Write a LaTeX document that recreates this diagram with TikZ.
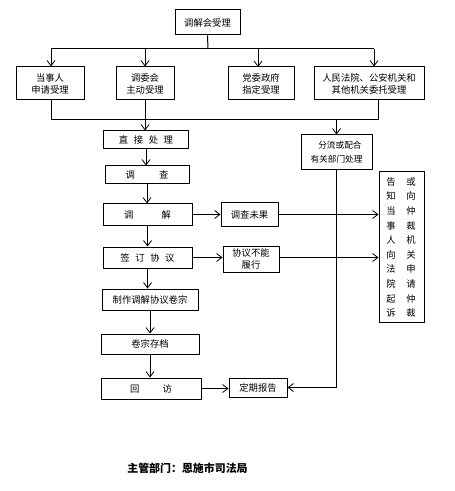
\documentclass[tikz,border=0pt]{standalone}
\usepackage{fontspec}
\setmainfont{Noto Sans CJK SC}
\usetikzlibrary{arrows.meta}
\begin{document}
\begin{tikzpicture}[x=0.75pt,y=-0.75pt,
  bx/.style 2 args={draw,line width=0.75pt,inner sep=0pt,minimum width=#1*0.75pt,minimum height=#2*0.75pt,align=center,font=\fontsize{7}{9}\selectfont},
  ln/.style={line width=0.75pt},
  arr/.style={line width=0.75pt,-{Straight Barb[length=4pt,width=6pt,line width=0.6pt]}}]
\useasboundingbox (0,0) rectangle (454,491);
% top
\node[bx={65}{25}] (top) at (207.5,22.5) {调解会受理};
\node[bx={68}{33}] (b1) at (50,83.5) {当事人\\申请受理};
\node[bx={58}{33}] (b2) at (145,83.5) {调委会\\主动受理};
\node[bx={66}{33}] (b3) at (261,83.5) {党委政府\\指定受理};
\node[bx={110}{33}] (b4) at (369,83.5) {人民法院、公安机关和\\其他机关委托受理};
\coordinate (bus) at (208,49);
\coordinate (busL) at (51,49);
\coordinate (busR) at (374,49);
\draw[ln] (top.south) -- (bus);
\draw[ln] (busL) -- (busR);
\draw[arr] (busL) -- (b1.north -| busL);
\draw[arr] (bus -| b2.north) -- (b2.north);
\draw[arr] (258,49) -- (258,67);
\draw[arr] (busR) -- (b4.north -| busR);
% lower bus
\coordinate (lbL) at (51,120);
\coordinate (lbR) at (378,120);
\draw[ln] (b1.south -| lbL) -- (lbL) -- (lbR) -- (b4.south -| lbR);
% main column
\node[bx={85}{18}] (c1) at (146,140) {直\hspace{0.6em}接\hspace{0.6em}处\hspace{0.6em}理};
\node[bx={84}{18}] (c2) at (147,175) {调\hspace{2.6em}查};
\node[bx={89}{21}] (c3) at (147.5,214.5) {调\hspace{3em}解};
\node[bx={89}{21}] (c4) at (147.5,257.5) {签\hspace{0.6em}订\hspace{0.6em}协\hspace{0.6em}议};
\node[bx={96}{21}] (c5) at (150,299.5) {制作调解协议卷宗};
\node[bx={98}{20}] (c6) at (150,344) {卷宗存档};
\node[bx={100}{21}] (c7) at (151,388.5) {回\hspace{2.5em}访};
\draw[arr] (b2.south) -- (b2.south |- c1.north);
\draw[arr] (c1.south) -- (c1.south |- c2.north);
\draw[arr] (c2.south) -- (c2.south |- c3.north);
\draw[arr] (c3.south) -- (c3.south |- c4.north);
\draw[arr] (c4.south) -- (c4.south |- c5.north);
\draw[arr] (c5.south) -- (c5.south |- c6.north);
\draw[arr] (c6.south) -- (c6.south |- c7.north);
% right side
\node[bx={57}{23}] (r1) at (249.5,214.5) {调查未果};
\node[bx={56}{26},font=\fontsize{7}{8.5}\selectfont] (r2) at (251,259) {协议不能\\履行\hspace{2em}};
\node[bx={71}{35},font=\fontsize{6.5}{10.5}\selectfont] (F) at (336.5,152.5) {\hspace{0.8em}分流或配合\\有关部门处理};
\node[bx={45}{150}] (T) at (401.5,247) {};
\node[align=center,inner sep=0pt,font=\fontsize{7}{10.95}\selectfont] (T1) at (391,247.5) {告\\知\\当\\事\\人\\向\\法\\院\\起\\诉};
\node[align=center,inner sep=0pt,font=\fontsize{7}{10.95}\selectfont] (T2) at (411,247.5) {或\\向\\仲\\裁\\机\\关\\申\\请\\仲\\裁};
\node[bx={58}{19}] (D) at (258,387.5) {定期报告};
\draw[arr] (lbL -| F.north) -- (F.north);
\draw[arr] (c3.east) -- (c3.east -| r1.west);
\draw[arr] (r1.east) -- (r1.east -| T.west);
\draw[arr] (c4.east) -- (c4.east -| r2.west);
\draw[arr] (r2.east |- c4.east) -- (c4.east -| T.west);
\draw[arr] (c7.east) -- (c7.east -| D.west);
\draw[arr] (F.south) |- (D.east);
% footer
\node[inner sep=0pt,font=\fontsize{8.2}{10}\selectfont\bfseries] (foot) at (187.5,468) {主管部门：恩施市司法局};
\end{tikzpicture}
\end{document}
